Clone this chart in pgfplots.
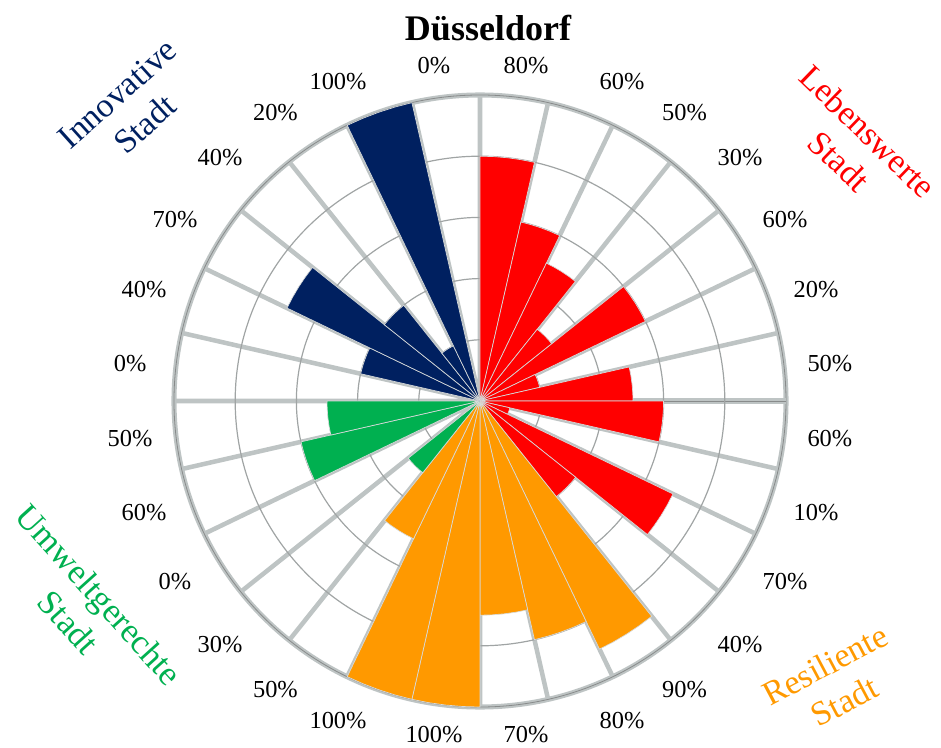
\documentclass[border=0pt]{standalone}
\usepackage{pgfplots}
\pgfplotsset{compat=1.18}
\usepackage{pgfplotstable}
\usepgfplotslibrary{polar}
\usepackage{fontspec}
\setmainfont{Liberation Serif}
\definecolor{cR}{RGB}{255,0,0}
\definecolor{cO}{RGB}{255,153,0}
\definecolor{cG}{RGB}{0,176,80}
\definecolor{cN}{RGB}{0,32,96}
\definecolor{lgray}{RGB}{190,196,196}
\definecolor{cgray}{RGB}{160,164,164}
\definecolor{barline}{RGB}{215,218,218}
\tikzset{lab/.style={text=black, font=\fontsize{18.3}{22}\selectfont, inner sep=0pt, outer sep=0pt}}

% k = segment (clockwise from top), val = share in %, c = colour,
% la/lr = angle and radius at which the value label is centred
\pgfplotstableread{
k val c la lr
0 80 cR 82.20 110.8
1 60 cR 66.03 114.2
2 50 cR 54.67 115.6
3 30 cR 43.12 116.4
4 60 cR 30.68 115.9
5 20 cR 18.36 115.7
6 50 cR 6.10 115.0
7 60 cR 353.90 115.0
8 10 cR 341.64 115.7
9 70 cR 329.32 115.9
10 40 cR 316.88 116.4
11 90 cO 305.33 115.6
12 80 cO 293.97 114.2
13 70 cO 277.86 109.9
14 100 cO 262.14 109.9
15 100 cO 246.03 114.2
16 50 cO 234.67 115.6
17 30 cG 223.12 116.4
18 0 cG 210.68 115.9
19 60 cG 198.36 115.7
20 50 cG 186.10 115.0
21 0 cN 173.90 115.0
22 40 cN 161.64 115.7
23 70 cN 149.32 115.9
24 40 cN 136.88 116.4
25 20 cN 125.33 115.6
26 100 cN 113.97 114.2
27 0 cN 97.80 110.8
}\data

\begin{document}
\begin{tikzpicture}
\useasboundingbox (-360pt,-260.25pt) rectangle (345.75pt,300.75pt);
\begin{polaraxis}[
  at={(0,0)}, anchor=center,
  scale only axis, width=459pt, height=459pt,
  xmin=0, xmax=360, ymin=0, ymax=100,
  clip=false,
  xtick={0,12.8571,25.7143,38.5714,51.4286,64.2857,77.1429,90,102.8571,115.7143,128.5714,141.4286,154.2857,167.1429,180,192.8571,205.7143,218.5714,231.4286,244.2857,257.1429,270,282.8571,295.7143,308.5714,321.4286,334.2857,347.1429},
  xticklabels={},
  xmajorgrids,
  ytick=\empty,
  extra y ticks={20,40,60,80},
  extra y tick labels={},
  extra y tick style={grid=major, major grid style={draw=cgray, line width=0.9pt}},
  major grid style={draw=lgray, line width=3.4pt},
  major tick length=0pt, minor tick length=0pt,
  axis line style={draw=lgray, line width=1.6pt, double=cgray!85!black, double distance=0.6pt},
]
\pgfplotsinvokeforeach{0,...,27}{%
  \pgfplotstablegetelem{#1}{val}\of\data \let\bv\pgfplotsretval
  \pgfplotstablegetelem{#1}{c}\of\data \let\bc\pgfplotsretval
  \pgfplotstablegetelem{#1}{la}\of\data \let\la\pgfplotsretval
  \pgfplotstablegetelem{#1}{lr}\of\data \let\lr\pgfplotsretval
  \pgfmathsetmacro\aB{mod(450-(#1+1)*90/7,360)}%
  \pgfmathsetmacro\aA{\aB+90/7}%
  \pgfmathsetmacro\aQ{\aB+3*90/28}%
  \pgfmathsetmacro\aM{\aB+90/14}%
  \pgfmathsetmacro\aR{\aB+90/28}%
  \edef\tmp{\noexpand\addplot[fill=\bc, draw=barline, line width=0.5pt] coordinates {(\aA,0) (\aA,\bv) (\aQ,\bv) (\aM,\bv) (\aR,\bv) (\aB,\bv) (\aB,0)};
    \noexpand\addplot[draw=none, mark=none, nodes near coords={\bv\noexpand\%}, every node near coord/.append style={lab, anchor=center}] coordinates {(\la,\lr)};}%
  \tmp
}
\end{polaraxis}
\node[anchor=base, font=\bfseries\fontsize{27}{32}\selectfont] at (6pt,270.5pt) {Düsseldorf};
\node[rotate=-44, text=cR, align=center, font=\fontsize{25.5}{31}\selectfont] at (280pt,191pt) {Lebenswerte\\Stadt};
\node[rotate=42, text=cN, align=center, font=\fontsize{25.5}{31}\selectfont] at (-261.5pt,219pt) {Innovative\\Stadt};
\node[rotate=-48, text=cG, align=center, font=\fontsize{26}{31}\selectfont] at (-297pt,-155.5pt) {Umweltgerechte\\Stadt};
\node[rotate=28, text=cO, align=center, font=\fontsize{25.5}{31}\selectfont] at (266pt,-211.5pt) {Resiliente\\Stadt};
\end{tikzpicture}
\end{document}
